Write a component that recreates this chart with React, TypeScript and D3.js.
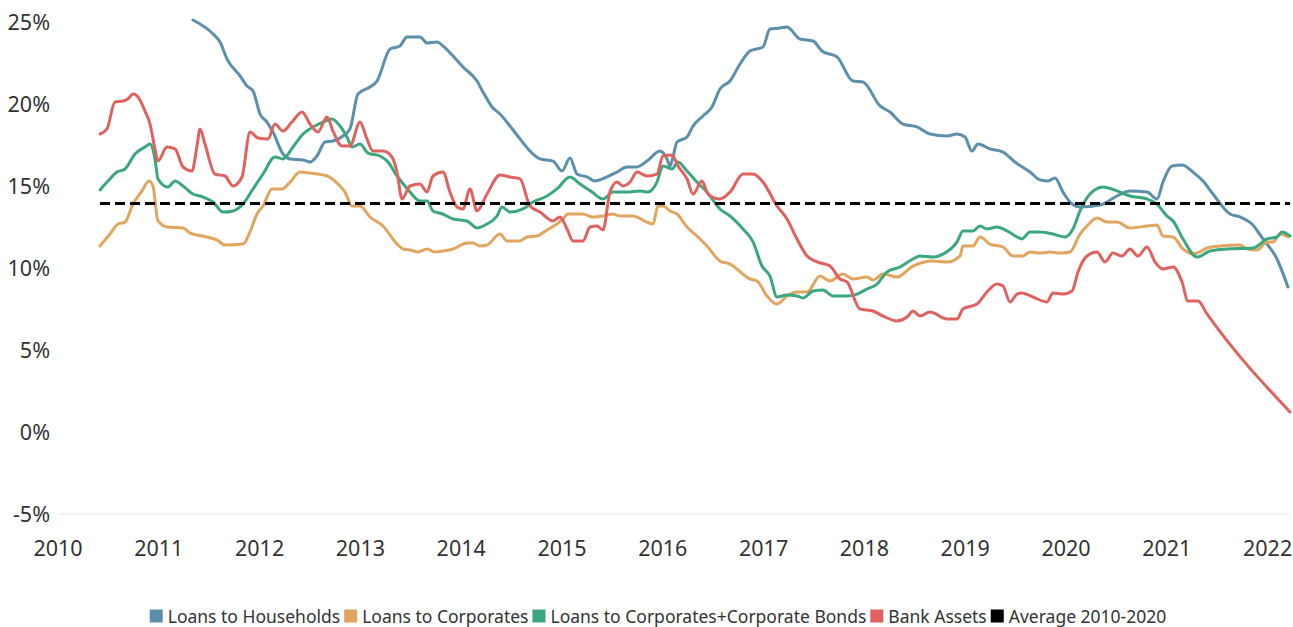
import React, { useEffect, useRef } from "react";
import * as d3 from "d3";

// decimal year offsets (from 2010) and values in %
const householdsT = [1.339,1.538,1.607,1.677,1.806,1.875,1.935,2.004,2.073,2.133,2.232,2.302,2.431,2.5,2.569,2.649,2.728,2.827,2.897,2.976,3.095,3.165,3.294,3.393,3.462,3.591,3.661,3.76,3.819,3.919,4.018,4.157,4.216,4.306,4.385,4.484,4.583,4.683,4.782,4.911,5.0,5.079,5.149,5.248,5.327,5.446,5.546,5.645,5.744,5.843,5.972,6.042,6.071,6.101,6.141,6.24,6.3,6.399,6.488,6.567,6.667,6.766,6.865,6.994,7.063,7.163,7.232,7.361,7.49,7.579,7.728,7.887,7.986,8.155,8.254,8.383,8.522,8.651,8.819,8.919,8.998,9.067,9.127,9.246,9.375,9.494,9.643,9.742,9.821,9.891,9.97,10.06,10.139,10.337,10.506,10.635,10.804,10.903,10.962,11.052,11.151,11.26,11.359,11.458,11.627,11.726,11.845,11.954,12.093,12.202];
const householdsV = [25.12,24.27,23.78,22.74,21.71,21.1,20.79,19.39,18.9,18.29,16.95,16.65,16.59,16.46,16.83,17.68,17.74,18.05,18.48,20.61,21.04,21.4,23.35,23.54,24.09,24.09,23.72,23.78,23.54,22.93,22.26,21.4,20.73,19.82,19.39,18.66,17.87,17.13,16.65,16.52,15.91,16.71,15.73,15.55,15.3,15.55,15.85,16.16,16.16,16.52,17.13,16.65,16.22,16.77,17.68,17.99,18.66,19.27,19.82,20.91,21.4,22.44,23.23,23.48,24.57,24.63,24.7,23.96,23.84,23.23,22.87,21.4,21.34,19.88,19.51,18.78,18.6,18.17,18.05,18.17,17.99,17.13,17.56,17.26,17.07,16.46,15.85,15.37,15.3,15.49,14.63,13.9,13.72,13.84,14.39,14.7,14.63,14.21,15.24,16.22,16.28,15.85,15.3,14.51,13.29,13.11,12.68,11.77,10.55,8.84];

const corporatesT = [0.417,0.516,0.595,0.665,0.744,0.833,0.903,0.942,0.992,1.081,1.24,1.31,1.438,1.577,1.657,1.835,1.905,1.974,2.034,2.123,2.222,2.302,2.401,2.5,2.669,2.778,2.847,2.917,2.996,3.095,3.224,3.363,3.423,3.492,3.571,3.661,3.74,3.819,3.919,4.058,4.117,4.187,4.256,4.385,4.454,4.583,4.653,4.752,4.851,4.95,5.01,5.06,5.208,5.308,5.407,5.506,5.575,5.704,5.843,5.903,5.952,6.002,6.071,6.141,6.24,6.339,6.438,6.567,6.667,6.865,6.935,7.034,7.133,7.232,7.331,7.431,7.56,7.659,7.788,7.887,8.026,8.085,8.185,8.323,8.482,8.681,8.819,8.948,8.978,9.077,9.147,9.246,9.375,9.474,9.573,9.643,9.742,9.841,9.94,10.04,10.139,10.208,10.308,10.407,10.506,10.635,10.804,10.903,10.962,11.062,11.161,11.26,11.329,11.399,11.528,11.726,11.796,11.895,11.994,12.054,12.123,12.202];
const corporatesV = [11.34,12.07,12.68,12.8,13.9,14.7,15.3,15.0,12.87,12.5,12.44,12.13,11.95,11.71,11.4,11.46,12.2,13.29,13.78,14.82,14.82,15.24,15.85,15.79,15.61,15.12,14.63,13.78,13.78,13.11,12.56,11.46,11.16,11.1,10.98,11.16,10.98,11.04,11.16,11.52,11.52,11.34,11.4,12.07,11.65,11.65,11.89,11.95,12.32,12.68,12.99,13.29,13.29,13.11,13.17,13.29,13.17,13.17,12.8,12.68,13.78,13.78,13.48,13.29,12.5,11.95,11.34,10.43,10.24,9.33,9.21,8.29,7.8,8.29,8.54,8.54,9.51,9.21,9.63,9.33,9.45,9.27,9.63,9.45,10.12,10.43,10.37,10.73,11.34,11.34,11.89,11.46,11.28,10.73,10.73,10.98,10.91,10.98,10.91,10.98,12.07,12.56,13.05,12.8,12.8,12.44,12.56,12.62,11.95,11.89,11.16,10.85,10.98,11.22,11.34,11.4,11.16,11.1,11.59,11.59,12.07,11.89];

const bondsT = [0.417,0.496,0.585,0.665,0.764,0.863,0.913,0.962,0.992,1.091,1.161,1.24,1.339,1.438,1.538,1.637,1.736,1.835,1.935,2.034,2.153,2.232,2.331,2.431,2.53,2.629,2.718,2.798,2.867,2.917,2.996,3.075,3.194,3.274,3.363,3.442,3.492,3.591,3.661,3.72,3.819,3.919,4.058,4.157,4.256,4.355,4.405,4.484,4.613,4.712,4.851,4.95,5.079,5.179,5.298,5.407,5.506,5.645,5.774,5.853,5.942,6.002,6.091,6.151,6.24,6.339,6.438,6.567,6.667,6.796,6.895,6.984,7.063,7.133,7.232,7.331,7.391,7.49,7.589,7.688,7.827,7.927,8.026,8.125,8.224,8.353,8.482,8.552,8.681,8.78,8.919,8.978,9.077,9.147,9.216,9.315,9.415,9.514,9.563,9.643,9.742,9.871,9.99,10.069,10.139,10.238,10.367,10.506,10.635,10.804,10.903,11.002,11.062,11.161,11.3,11.429,11.597,11.855,11.994,12.093,12.143,12.222];
const bondsV = [14.76,15.3,15.85,16.04,16.95,17.38,17.56,16.65,15.43,14.94,15.3,15.0,14.51,14.33,14.02,13.41,13.48,13.9,14.82,15.73,16.77,16.65,17.38,18.17,18.6,18.9,19.09,18.66,17.99,17.38,17.56,17.01,16.83,16.46,15.61,15.0,14.63,14.09,14.09,13.48,13.29,12.99,12.87,12.44,12.68,13.17,13.72,13.41,13.6,14.02,14.39,14.82,15.55,15.12,14.63,14.21,14.63,14.63,14.7,14.63,15.24,16.22,16.04,16.46,15.91,15.24,14.63,13.6,13.17,12.38,11.59,10.12,9.51,8.23,8.35,8.29,8.17,8.6,8.66,8.29,8.29,8.41,8.72,9.02,9.76,10.06,10.55,10.73,10.67,10.85,11.59,12.26,12.26,12.56,12.38,12.5,12.26,11.89,11.77,12.2,12.2,12.07,11.89,12.38,13.48,14.51,14.94,14.7,14.39,14.21,13.9,13.17,12.87,11.77,10.67,11.04,11.16,11.22,11.77,11.89,12.2,11.95];

const bankT = [0.417,0.486,0.565,0.645,0.694,0.744,0.794,0.863,0.913,0.962,0.992,1.081,1.161,1.24,1.329,1.379,1.409,1.458,1.558,1.657,1.736,1.825,1.905,1.984,2.083,2.153,2.232,2.321,2.421,2.5,2.579,2.669,2.728,2.817,2.897,2.996,3.065,3.125,3.224,3.313,3.363,3.413,3.492,3.591,3.661,3.72,3.819,3.889,3.958,4.018,4.087,4.157,4.256,4.385,4.484,4.583,4.683,4.782,4.911,4.98,5.05,5.109,5.208,5.278,5.347,5.407,5.476,5.546,5.605,5.675,5.744,5.843,5.942,6.002,6.091,6.151,6.24,6.3,6.389,6.448,6.567,6.667,6.796,6.895,6.994,7.133,7.232,7.331,7.431,7.53,7.659,7.758,7.827,7.956,8.085,8.185,8.323,8.423,8.482,8.552,8.651,8.819,8.919,8.978,9.117,9.216,9.315,9.375,9.444,9.514,9.563,9.673,9.812,9.871,9.97,10.06,10.119,10.208,10.308,10.387,10.466,10.556,10.635,10.714,10.804,10.883,10.962,11.062,11.151,11.21,11.31,11.399,12.222];
const bankV = [18.17,18.48,20.12,20.18,20.3,20.61,20.43,19.57,18.78,17.26,16.52,17.38,17.26,16.16,15.91,17.44,18.48,17.56,15.73,15.61,15.0,15.55,18.29,17.93,17.87,18.78,18.35,18.9,19.51,18.78,18.29,19.21,18.35,17.44,17.44,18.9,17.87,17.13,17.13,16.77,15.85,14.21,15.0,15.12,14.63,15.61,15.85,14.63,13.72,13.6,14.82,13.48,14.51,15.67,15.55,15.43,13.78,13.41,12.87,13.11,12.38,11.65,11.65,12.5,12.56,12.32,14.63,15.24,15.0,15.24,15.85,15.61,15.73,16.83,16.89,16.22,15.43,14.51,15.3,14.51,14.21,14.63,15.73,15.73,15.24,13.78,12.99,11.77,10.73,10.37,10.12,9.33,9.15,7.5,7.38,7.07,6.77,7.01,7.38,7.07,7.32,6.89,6.89,7.5,7.8,8.54,9.02,8.9,7.93,8.41,8.48,8.23,7.93,8.48,8.41,8.6,9.76,10.73,10.98,10.37,10.91,10.73,11.16,10.73,11.28,10.37,9.94,10.06,9.15,7.99,7.99,7.2,1.22];

const averageT = [0.417, 12.222];
const averageV = [13.93, 13.93];

const seriesNames = ["Loans to Households", "Loans to Corporates", "Loans to Corporates+Corporate Bonds", "Bank Assets", "Average 2010-2020"];
const seriesColors = ["#5b8fab", "#e2a55f", "#3ba77f", "#e0625e", "#000000"];
const yTicks = [-5, 0, 5, 10, 15, 20, 25];
const xTicks = [2010, 2011, 2012, 2013, 2014, 2015, 2016, 2017, 2018, 2019, 2020, 2021, 2022];
const BASE_YEAR = 2010;

const W = 1293;
const H = 627;
const FONT = "'Noto Sans', sans-serif";

export default function App() {
  const ref = useRef<SVGSVGElement | null>(null);

  useEffect(() => {
    const svg = d3.select(ref.current);
    svg.selectAll("*").remove();

    const x = d3.scaleLinear().domain([2010, 2022]).range([58, 1267.6]);
    const y = d3.scaleLinear().domain([-5, 25]).range([514, 22]);

    // baseline gridline
    svg.append("line")
      .attr("x1", 58).attr("x2", 1290)
      .attr("y1", y(-5)).attr("y2", y(-5))
      .attr("stroke", "#e8e8e8").attr("stroke-width", 1);

    // y tick labels
    svg.append("g").selectAll("text").data(yTicks).join("text")
      .attr("x", 50).attr("y", (d) => y(d))
      .attr("dy", "0.35em")
      .attr("text-anchor", "end")
      .attr("font-family", FONT).attr("font-size", 21.5).attr("fill", "#333")
      .text((d) => `${d}%`);

    // x tick labels
    svg.append("g").selectAll("text").data(xTicks).join("text")
      .attr("x", (d) => x(d)).attr("y", 556)
      .attr("text-anchor", "middle")
      .attr("font-family", FONT).attr("font-size", 21.5).attr("fill", "#333")
      .text((d) => String(d));

    const line = d3.line<[number, number]>()
      .x((d) => x(BASE_YEAR + d[0]))
      .y((d) => y(d[1]))
      .curve(d3.curveMonotoneX);

    const series: [number[], number[]][] = [
      [householdsT, householdsV],
      [corporatesT, corporatesV],
      [bondsT, bondsV],
      [bankT, bankV],
    ];
    series.forEach(([t, v], i) => {
      const pts = t.map((tt, k) => [tt, v[k]] as [number, number]);
      svg.append("path")
        .attr("d", line(pts) || "")
        .attr("fill", "none")
        .attr("stroke", seriesColors[i])
        .attr("stroke-width", 3)
        .attr("stroke-linejoin", "round")
        .attr("stroke-linecap", "round");
    });

    // average dashed line
    const avgPts = averageT.map((tt, k) => [tt, averageV[k]] as [number, number]);
    svg.append("path")
      .attr("d", d3.line<[number, number]>().x((d) => x(BASE_YEAR + d[0])).y((d) => y(d[1]))(avgPts) || "")
      .attr("fill", "none")
      .attr("stroke", "#000")
      .attr("stroke-width", 3)
      .attr("stroke-dasharray", "10,5");

    // legend
    const lg = svg.append("g");
    let cx = 0;
    seriesNames.forEach((name, i) => {
      const g = lg.append("g").attr("transform", `translate(${cx},0)`);
      g.append("rect").attr("x", 0).attr("y", -6.5).attr("width", 13).attr("height", 13).attr("fill", seriesColors[i]);
      const t = g.append("text")
        .attr("x", 18).attr("y", 6.5)
        .attr("font-family", FONT).attr("font-size", 17.5).attr("fill", "#333")
        .text(name);
      const w = (t.node() as SVGTextElement).getComputedTextLength();
      cx += 18 + w + 4;
    });
    const total = cx - 4;
    lg.attr("transform", `translate(${(153 + 1163) / 2 - total / 2},616)`);
  }, []);

  return (
    <svg ref={ref} width={W} height={H} style={{ display: "block", position: "absolute", left: 0, top: 0, background: "#fff" }} />
  );
}
